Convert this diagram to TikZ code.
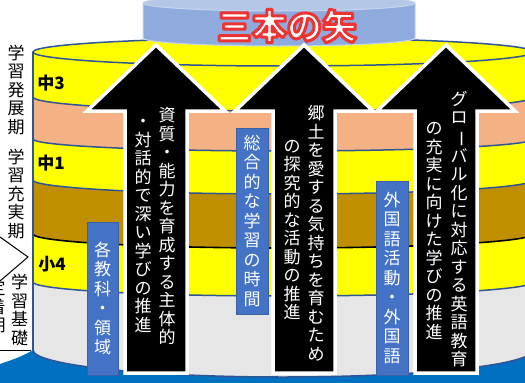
\documentclass[tikz,border=0pt]{standalone}
\usepackage{fontspec}
\usepackage{graphicx}
\newfontfamily\jp{Noto Sans CJK JP}
\definecolor{cyyellow}{HTML}{FFFF00}
\definecolor{cysalmon}{HTML}{F4B183}
\definecolor{cybrown}{HTML}{BF8F00}
\definecolor{cygray}{HTML}{E7E6E6}
\definecolor{cybase}{HTML}{0070C0}
\definecolor{cynavy}{HTML}{2F5597}
\definecolor{boxblue}{HTML}{4472C4}
\definecolor{topbody}{HTML}{8FAADC}
\definecolor{toptop}{HTML}{B4C7E7}
\definecolor{topline}{HTML}{C5D5EE}
\definecolor{titlered}{HTML}{EE3333}
\makeatletter
\newcommand\tate[1]{\vbox{\@tfor\tatechar:=#1\do{\hbox to 1.1em{\hss\tatechar\hss}}}}
\makeatother
\newcommand\chouon{\rotatebox[origin=c]{-90}{ー}}
\newcommand\outlined[1]{\textcolor{white}{\special{pdf:literal direct 2 Tr 3 w 1 j 0.933 0.2 0.2 RG}#1\special{pdf:literal direct 0 Tr}}}
\newcommand\cylayer[5]{\fill[#1] (33,-#2) arc[start angle=180,end angle=360,x radius=250pt,y radius=#3pt] -- (533,-#4) arc[start angle=360,end angle=180,x radius=250pt,y radius=#5pt] -- cycle;}
\newcommand\cyarc[3]{\draw[#1] (33,-#2) arc[start angle=180,end angle=360,x radius=250pt,y radius=#3pt];}
\newcommand\bigarrow[1]{\draw[bigarrowstyle] (#1,-45) -- (#1+69,-111) -- (#1+31,-111) -- (#1+31,-373) -- (#1-31,-373) -- (#1-31,-111) -- (#1-69,-111) -- cycle;}
\tikzset{
  tatetext/.style={inner sep=0pt, text=white, font=\jp\fontsize{17}{18.5}\selectfont},
  lbltext/.style={inner sep=0pt, text=black, font=\jp\fontsize{17}{18.5}\selectfont},
  boxtext/.style={fill=boxblue, draw=boxblue!85!black, line width=0.6pt, inner sep=0pt, text=white, font=\jp\fontsize{17}{19.5}\selectfont},
  bigarrowstyle/.style={fill=black, draw=white, line width=3.5pt, line join=miter},
  grade/.style={inner sep=0pt, text=black, font=\jp\bfseries\fontsize{17}{17}\selectfont},
  bound/.style={draw=cynavy, line width=1.5pt},
}
\begin{document}
\begin{tikzpicture}[x=1pt,y=1pt]
\path[use as bounding box] (0,0) rectangle (525,-383);
\clip (0,0) rectangle (525,-383);
% blue base
\fill[cybase] (0,-364) .. controls (15,-359) and (25,-355) .. (33,-350) -- (525,-350) -- (525,-383) -- (0,-383) -- cycle;
% layers
\cylayer{cyyellow}{52}{14}{97}{14}
\cylayer{cysalmon}{97}{14}{139}{12}
\cylayer{cyyellow}{139}{12}{180}{14}
\cylayer{cybrown}{180}{14}{234}{14}
\cylayer{cyyellow}{234}{14}{282}{14}
\cylayer{cygray}{282}{14}{350}{27}
\filldraw[fill=cyyellow, bound] (283,-52) ellipse[x radius=250pt, y radius=14pt];
\cyarc{bound}{97}{14}
\cyarc{bound}{139}{12}
\cyarc{bound}{180}{14}
\cyarc{draw=black, line width=1.6pt}{234}{14}
\cyarc{bound}{282}{14}
\cyarc{bound}{350}{27}
\draw[bound] (33,-52) -- (33,-350);
% top cylinder
\fill[topbody] (143,-3) -- (143,-38) arc[start angle=180,end angle=360,x radius=136pt,y radius=8pt] -- (415,-3) -- cycle;
\draw[topline, line width=1pt] (143,-3) -- (143,-38) arc[start angle=180,end angle=360,x radius=136pt,y radius=8pt] -- (415,-3);
\filldraw[fill=toptop, draw=topline, line width=1pt] (279,-3) ellipse[x radius=136pt, y radius=8pt];
\node[font=\jp\bfseries\fontsize{35}{35}\selectfont, inner sep=0pt] (title) at (287,-26) {\outlined{三本の矢}};
% arrows
\bigarrow{156}
\bigarrow{304}
\bigarrow{446}
% arrow texts
\node[tatetext] (a1r) at (167,-226) {\tate{資質・能力を育成する主体的}};
\node[tatetext] (a1l) at (143,-226) {\tate{・対話的で深い学びの推進}};
\node[tatetext] (a2r) at (316,-233) {\tate{郷土を愛する気持ちを育むため}};
\node[tatetext] (a2l) at (292,-230) {\tate{の探究的な活動の推進}};
\node[tatetext] (a3r) at (459,-229) {\tate{グロ\chouon バル化に対応する英語教育}};
\node[tatetext] (a3l) at (434,-231) {\tate{の充実に向けた学びの推進}};
% blue boxes
\node[boxtext, minimum width=31pt, minimum height=153pt] (bA) at (102.5,-298.5) {\tate{各教科・領域}};
\node[boxtext, minimum width=32pt, minimum height=186pt] (bB) at (252,-221) {\tate{総合的な学習の時間}};
\node[boxtext, minimum width=32pt, minimum height=194pt] (bC) at (392,-278) {\tate{外国語活動・外国語}};
% grade labels
\node[grade] (g3) at (51,-83) {中3};
\node[grade] (g1) at (51,-163) {中1};
\node[grade] (g4) at (52,-264) {小4};
% left labels
\node[lbltext] (l1) at (16,-90) {\tate{学習発展期}};
\node[lbltext] (l2) at (16,-194) {\tate{学習充実期}};
\node[lbltext] (l3) at (19.5,-310) {\tate{学習基礎}};
\node[lbltext] (l4) at (-3,-307) {\tate{定着期}};
\coordinate (c1) at (0,-237);
\coordinate (ctip) at (28,-257);
\coordinate (c2) at (0,-281);
\draw[line width=1pt] (c1) -- (ctip) -- (c2);
\coordinate (b1) at (0,-350);
\coordinate (b2) at (31,-350);
\draw[line width=1pt] (b1) -- (b2);
\end{tikzpicture}
\end{document}
